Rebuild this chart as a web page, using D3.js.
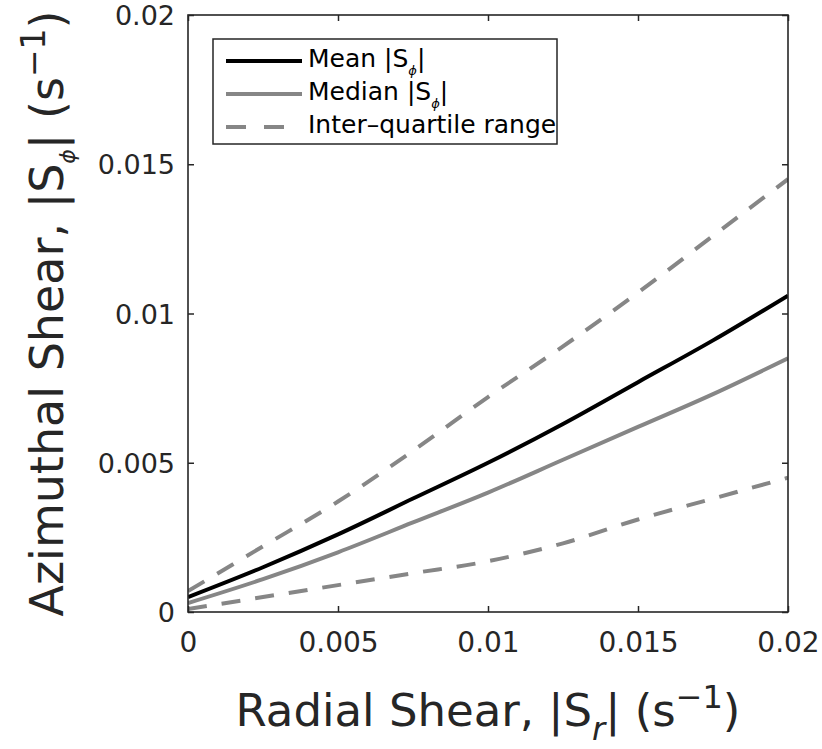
<!DOCTYPE html>
<html><head><meta charset="utf-8">
<script src="https://cdn.jsdelivr.net/npm/d3@7"></script>
<style>
body{margin:0;background:#fff}
text{font-family:"DejaVu Sans",sans-serif;fill:#262626}
</style>
</head><body><svg id="c" width="822" height="749"></svg>
<script>
// ---- data ----
const xValues      = [0, 0.0025, 0.005, 0.0075, 0.01, 0.0125, 0.015, 0.0175, 0.02];
const meanValues   = [0.0005, 0.0015, 0.0026, 0.0038, 0.0050, 0.0063, 0.0077, 0.0091, 0.0106];
const medianValues = [0.0003, 0.0011, 0.0020, 0.0030, 0.0040, 0.0051, 0.0062, 0.0073, 0.0085];
const upperQuart   = [0.0007, 0.0022, 0.0037, 0.0054, 0.0072, 0.0089, 0.0107, 0.0126, 0.0145];
const lowerQuart   = [0.0001, 0.0005, 0.0009, 0.0013, 0.0017, 0.0023, 0.0031, 0.0038, 0.0045];
const xTicks = [0, 0.005, 0.01, 0.015, 0.02];
const yTicks = [0, 0.005, 0.01, 0.015, 0.02];
const xTickLabels = ["0", "0.005", "0.01", "0.015", "0.02"];
const yTickLabels = ["0", "0.005", "0.01", "0.015", "0.02"];
const legendLabels = ["Mean |S", "Median |S", "Inter\u2013quartile range"];

const svg = d3.select("#c");
const L = 188, R = 788, T = 15, B = 612;
const x = d3.scaleLinear().domain([0, 0.02]).range([L, R]);
const y = d3.scaleLinear().domain([0, 0.02]).range([B, T]);
const axisColor = "#262626";
const gray = "#868686";

// series
const series = [
  {vals: upperQuart, color: gray, dash: "19,15"},
  {vals: lowerQuart, color: gray, dash: "19,15"},
  {vals: medianValues, color: gray, dash: null},
  {vals: meanValues, color: "#000", dash: null}
];
const line = d3.line().x(d => x(d[0])).y(d => y(d[1])).curve(d3.curveMonotoneX);
const plot = svg.append("g");
plot.append("defs").append("clipPath").attr("id","clip")
  .append("rect").attr("x", L).attr("y", T).attr("width", R-L).attr("height", B-T);
series.forEach(s => {
  plot.append("path")
    .attr("d", line(xValues.map((xv,i) => [xv, s.vals[i]])))
    .attr("fill","none").attr("stroke", s.color).attr("stroke-width", 4)
    .attr("stroke-dasharray", s.dash).attr("clip-path","url(#clip)");
});

// axes
function styleAxis(g){
  g.select(".domain").remove();
  g.selectAll(".tick line").attr("stroke", axisColor).attr("stroke-width", 1.5);
}
const gx = svg.append("g").attr("transform", `translate(0,${B})`)
  .call(d3.axisBottom(x).tickValues(xTicks).tickSize(-6).tickFormat((d,i)=>xTickLabels[i]));
styleAxis(gx);
gx.selectAll(".tick text").attr("y", 40).attr("dy", 0).attr("font-size", 28).attr("fill", axisColor);
const gy = svg.append("g").attr("transform", `translate(${L},0)`)
  .call(d3.axisLeft(y).tickValues(yTicks).tickSize(-6).tickPadding(13).tickFormat((d,i)=>yTickLabels[i]));
styleAxis(gy);
gy.selectAll(".tick text").attr("font-size", 27).attr("x", -13).attr("dy", "0.36em").attr("fill", axisColor);
const gt = svg.append("g").attr("transform", `translate(0,${T})`)
  .call(d3.axisTop(x).tickValues(xTicks).tickSize(-6).tickFormat(""));
styleAxis(gt);
const gr = svg.append("g").attr("transform", `translate(${R},0)`)
  .call(d3.axisRight(y).tickValues(yTicks).tickSize(-6).tickFormat(""));
styleAxis(gr);
svg.append("rect").attr("x", L).attr("y", T).attr("width", R-L).attr("height", B-T)
  .attr("fill","none").attr("stroke", axisColor).attr("stroke-width", 1.6);

// axis titles
const xt = svg.append("text").attr("x", (L+R)/2).attr("y", 726)
  .attr("text-anchor","middle").attr("font-size", 45);
xt.append("tspan").text("Radial Shear, |S");
xt.append("tspan").attr("font-size", 32).attr("font-style","italic").attr("dy", 14).text("r");
xt.append("tspan").attr("dy", -14).text("| (s");
xt.append("tspan").attr("font-size", 32).attr("dy", -18).text("\u22121");
xt.append("tspan").attr("dy", 18).text(")");

const yt = svg.append("text").attr("transform", `translate(63,${(T+B)/2}) rotate(-90)`)
  .attr("text-anchor","middle").attr("font-size", 46);
yt.append("tspan").text("Azimuthal Shear, |S");
yt.append("tspan").attr("font-size", 22).attr("font-style","italic").attr("dy", 12).text("\u03d5");
yt.append("tspan").attr("dy", -12).text("| (s");
yt.append("tspan").attr("font-size", 33).attr("dy", -18).text("\u22121");
yt.append("tspan").attr("dy", 18).text(")");

// legend
const lg = svg.append("g");
lg.append("rect").attr("x", 213).attr("y", 39).attr("width", 344).attr("height", 105)
  .attr("fill","#fff").attr("stroke", axisColor).attr("stroke-width", 1.5);
const legendStyles = [
  {color:"#000", dash:null}, {color: gray, dash:null}, {color: gray, dash:"20,18"}
];
const legendY = [61, 94, 127];
legendLabels.forEach((lab, i) => {
  lg.append("line").attr("x1", 226).attr("x2", 302).attr("y1", legendY[i]).attr("y2", legendY[i])
    .attr("stroke", legendStyles[i].color).attr("stroke-width", 4).attr("stroke-dasharray", legendStyles[i].dash);
  const t = lg.append("text").attr("x", 308).attr("y", legendY[i] + 6).attr("font-size", 25).attr("fill","#000");
  t.append("tspan").text(lab).attr("fill","#000");
  if (i < 2) {
    t.append("tspan").attr("font-size", 13).attr("font-style","italic").attr("dy", 8).attr("fill","#000").text("\u03d5");
    t.append("tspan").attr("dy", -8).attr("fill","#000").text("|");
  }
});
</script></body></html>
